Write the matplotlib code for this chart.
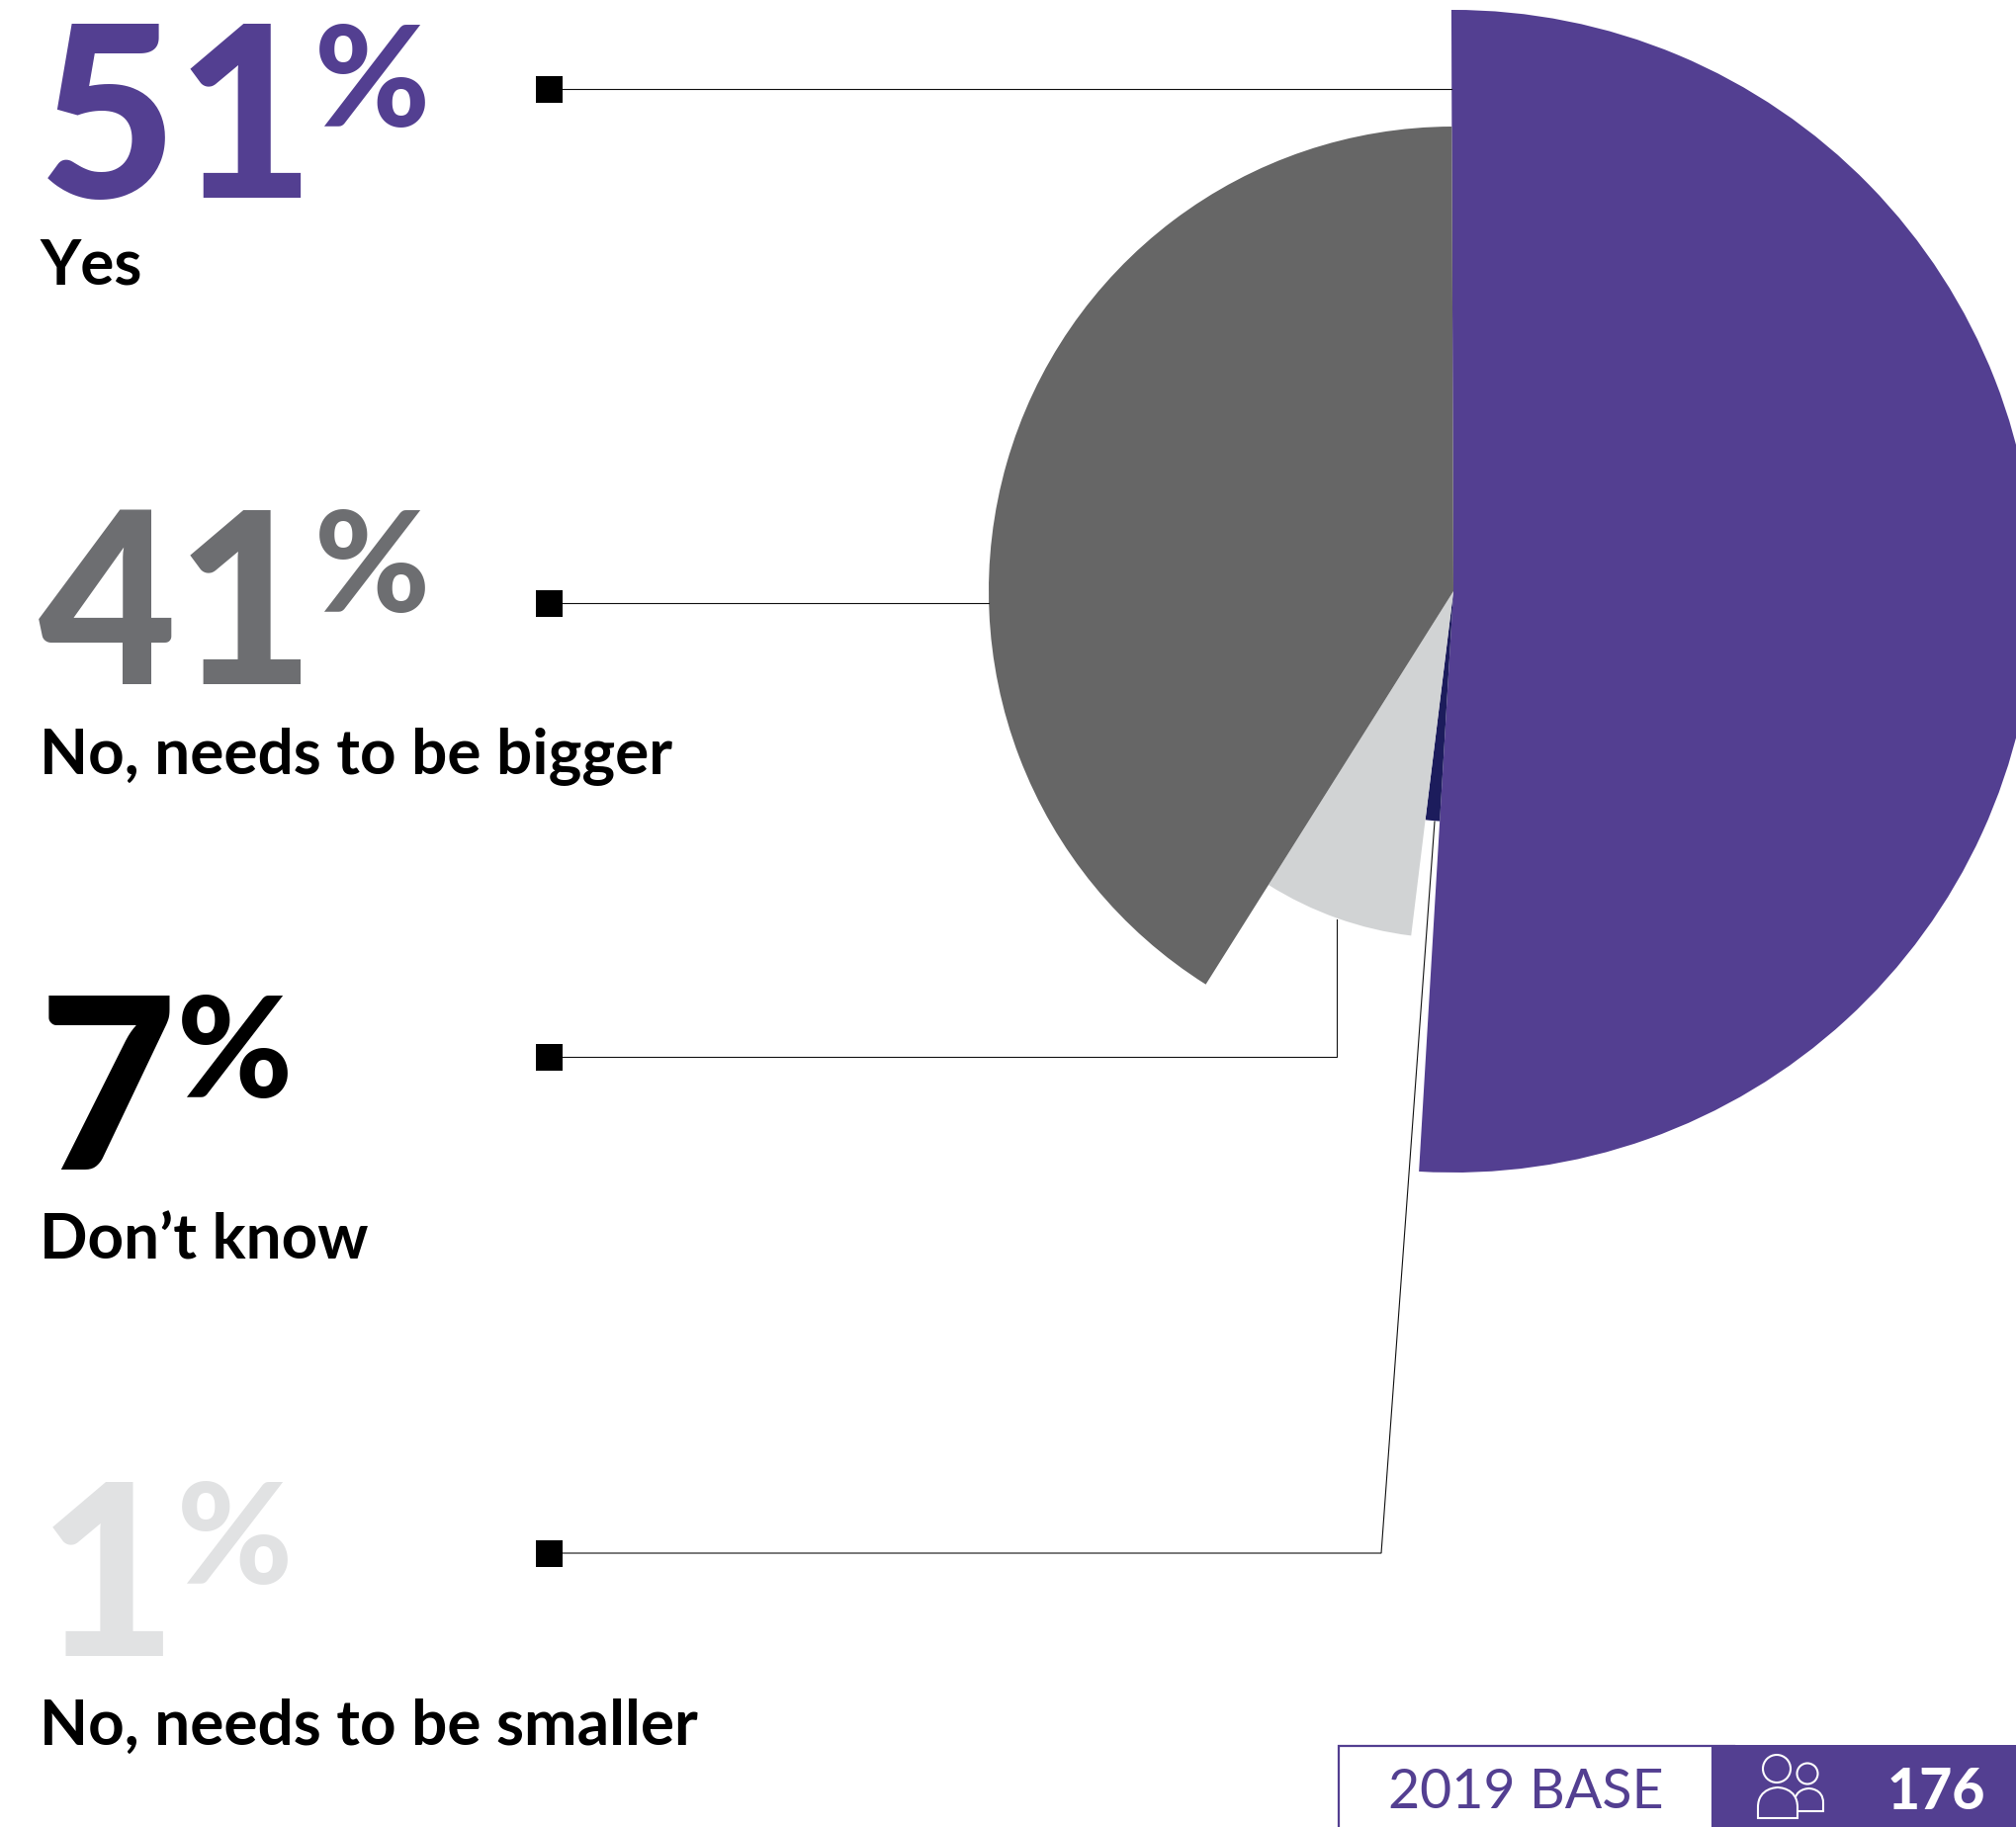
import matplotlib
matplotlib.use('Agg')
import matplotlib.pyplot as plt
from matplotlib.patches import Rectangle, Ellipse, PathPatch
from matplotlib.path import Path

plt.rcParams['font.family'] = ['Lato', 'DejaVu Sans']

categories = ['Yes', 'No, needs to be bigger', 'Don\u2019t know', 'No, needs to be smaller']
shares = [51, 41, 7, 1]
number_colors = ['#533F91', '#6D6E71', '#000000', '#E1E2E3']
base_label = '2019 BASE'
base_count = '176'

# slices go clockwise from the top, each with its own radius
slice_order = [0, 3, 2, 1]
slice_colors = ['#533F91', '#1C1C5C', '#D1D3D4', '#666666']
slice_radii = [588, 233, 351, 470]
center = (1470, 598)

W, H = 2039, 1848
PURPLE = '#533F91'

fig = plt.figure(figsize=(W / 100, H / 100), dpi=100)
ax = fig.add_axes([0, 0, 1, 1])

wedges, _ = ax.pie([shares[i] for i in slice_order], colors=slice_colors,
                   center=center, startangle=-90.2, counterclock=True)
for w, r in zip(wedges, slice_radii):
    w.set_radius(r)

# axes in pixels, y pointing down
ax.set_xlim(0, W)
ax.set_ylim(H, 0)
ax.set_aspect('auto')

# left column, one row per answer
number_base = [200, 692, 1183, 1675]
percent_x = [318, 318, 179, 179]
percent_base = [128, 619, 1110, 1602]
label_base = [288, 782, 1273, 1765]
square_y = [90, 610, 1069, 1571]

# leader lines from each square to its slice
leaders = [
    ([569, 1468], [90, 90]),
    ([569, 1000], [610, 610]),
    ([569, 1352, 1352], [1069, 1069, 930]),
    ([569, 1397, 1451], [1571, 1571, 831]),
]
for xs, ys in leaders:
    ax.plot(xs, ys, color='#111111', lw=0.8, solid_joinstyle='miter', zorder=1)

for i, name in enumerate(categories):
    ax.text(39, number_base[i], str(shares[i]), color=number_colors[i],
            fontsize=174, fontweight='black', va='baseline', ha='left')
    ax.text(percent_x[i], percent_base[i], '%', color=number_colors[i],
            fontsize=102, fontweight='black', va='baseline', ha='left')
    ax.text(40, label_base[i], name, color='#000000', fontsize=46,
            fontweight='bold', va='baseline', ha='left')
    ax.add_patch(Rectangle((542, square_y[i] - 13), 27, 27, color='#000000', lw=0, zorder=3))

# base size box in the corner
ax.add_patch(Rectangle((1354, 1766), 400, 100, facecolor='white', edgecolor=PURPLE, lw=1.6, zorder=2))
ax.add_patch(Rectangle((1731, 1765), W - 1731, H - 1765, facecolor=PURPLE, lw=0, zorder=3))
ax.text(1404, 1829, base_label, color=PURPLE, fontsize=40, fontweight='normal',
        va='baseline', ha='left', zorder=4)
ax.text(1909, 1830, base_count, color='white', fontsize=41, fontweight='black',
        va='baseline', ha='left', zorder=4)


def dome(x0, x1, top, bottom):
    # head and shoulders outline of the people icon
    mid = (x0 + x1) / 2
    verts = [(x0, bottom), (x0, top + (x1 - x0) / 2),
             (x0, top), (mid, top), (mid, top),
             (mid, top), (x1, top), (x1, top + (x1 - x0) / 2),
             (x1, bottom), (x0, bottom)]
    codes = [Path.MOVETO, Path.LINETO,
             Path.CURVE4, Path.CURVE4, Path.CURVE4,
             Path.CURVE4, Path.CURVE4, Path.CURVE4,
             Path.LINETO, Path.CLOSEPOLY]
    return Path(verts, codes)


icon = dict(facecolor='none', edgecolor='white', lw=1.5, zorder=5)
ax.add_patch(Ellipse((1828, 1794), 21, 21, **icon))
ax.add_patch(PathPatch(dome(1815, 1844, 1809, 1832), **icon))
ax.add_patch(Ellipse((1797, 1789), 28, 28, **icon))
ax.add_patch(PathPatch(dome(1778, 1818, 1808, 1839), facecolor=PURPLE, edgecolor='white', lw=1.5, zorder=6))

fig.savefig('out.png', dpi=100, facecolor='white')
